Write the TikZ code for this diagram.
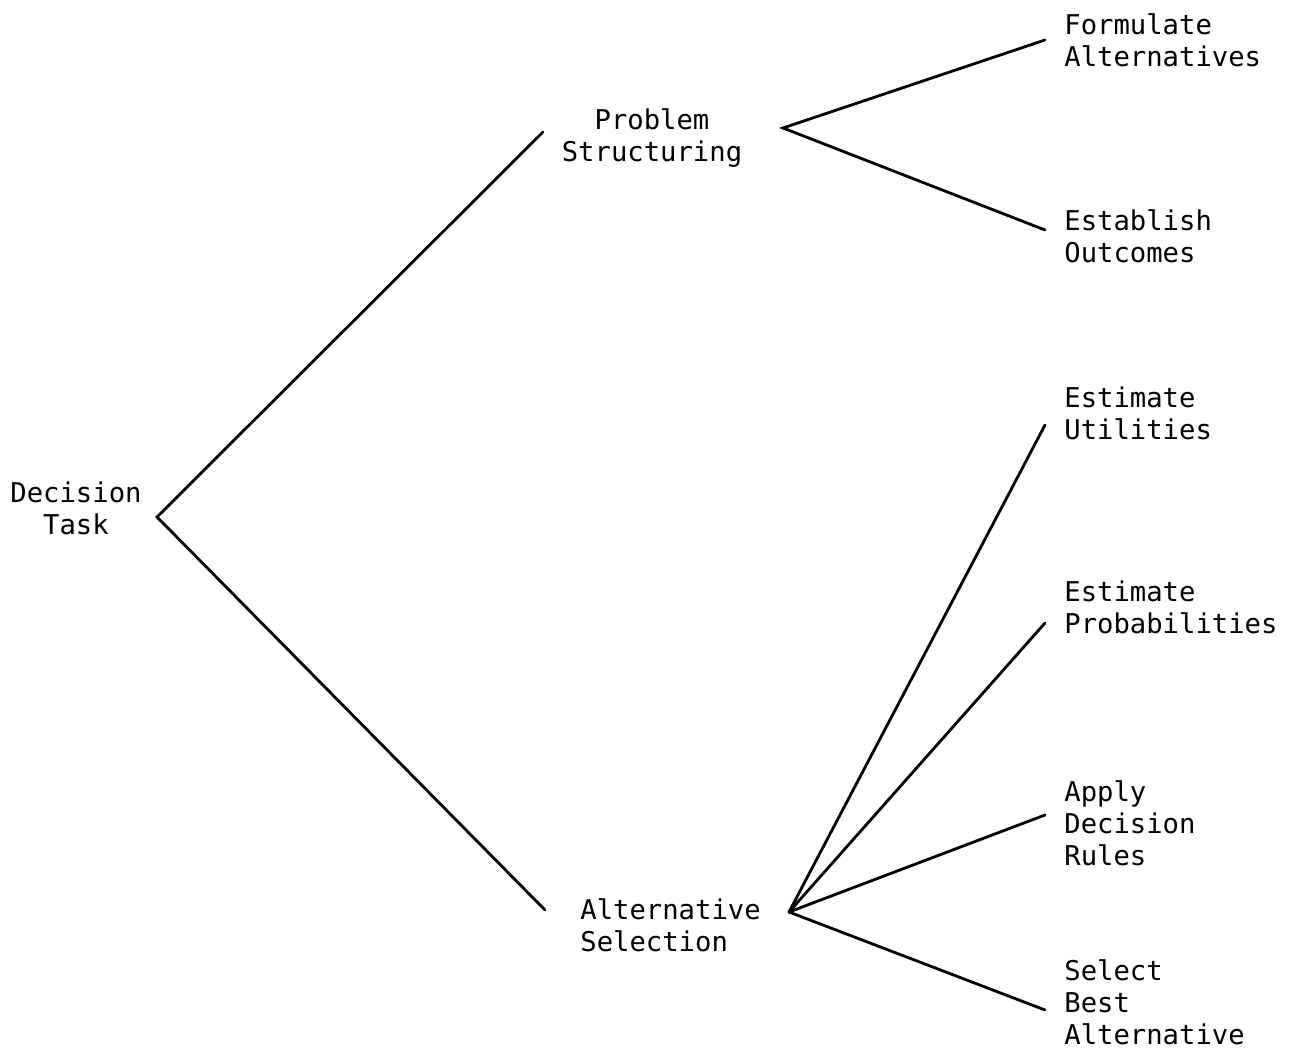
\documentclass[tikz,border=0pt]{standalone}
\usepackage{fontspec}
\setmonofont{DejaVu Sans Mono}
\begin{document}
\begin{tikzpicture}[
  x=0.02cm, y=-0.02cm,
  label/.style={font=\ttfamily\fontsize{15.5}{18.2}\selectfont, inner sep=0pt},
  leaf/.style={label, anchor=west, align=left},
  branch/.style={line width=1.6pt, line cap=round}
]
\useasboundingbox (0,0) rectangle (1289,1054);

\node[label, align=center] (task) at (76,508) {Decision\\Task};
\node[label, align=center] (prob) at (652,138) {Problem\\Structuring};
\node[label, anchor=west, align=left] (alt) at (580,925) {Alternative\\Selection};

\node[leaf] (form) at (1064,40) {Formulate\\Alternatives};
\node[leaf] (estab) at (1064,236) {Establish\\Outcomes};
\node[leaf] (util) at (1064,413) {Estimate\\Utilities};
\node[leaf] (probs) at (1064,607) {Estimate\\Probabilities};
\node[leaf] (apply) at (1064,823) {Apply\\Decision\\Rules};
\node[leaf] (best) at (1064,1002) {Select\\Best\\Alternative};

% branch points
\coordinate (task-r) at (157,517);
\coordinate (prob-l) at (543,132);
\coordinate (prob-r) at (783,128);
\coordinate (alt-l) at (545,910);
\coordinate (alt-r) at (789,912);
\coordinate (form-l) at (1045,40);
\coordinate (estab-l) at (1045,230);
\coordinate (util-l) at (1045,425);
\coordinate (probs-l) at (1045,623);
\coordinate (apply-l) at (1045,815);
\coordinate (best-l) at (1045,1010);

% Lines
\draw[branch] (prob-l) -- (task-r) -- (alt-l);
\draw[branch] (form-l) -- (prob-r) -- (estab-l);
\draw[branch] (alt-r) -- (util-l);
\draw[branch] (alt-r) -- (probs-l);
\draw[branch] (alt-r) -- (apply-l);
\draw[branch] (alt-r) -- (best-l);
\end{tikzpicture}
\end{document}
